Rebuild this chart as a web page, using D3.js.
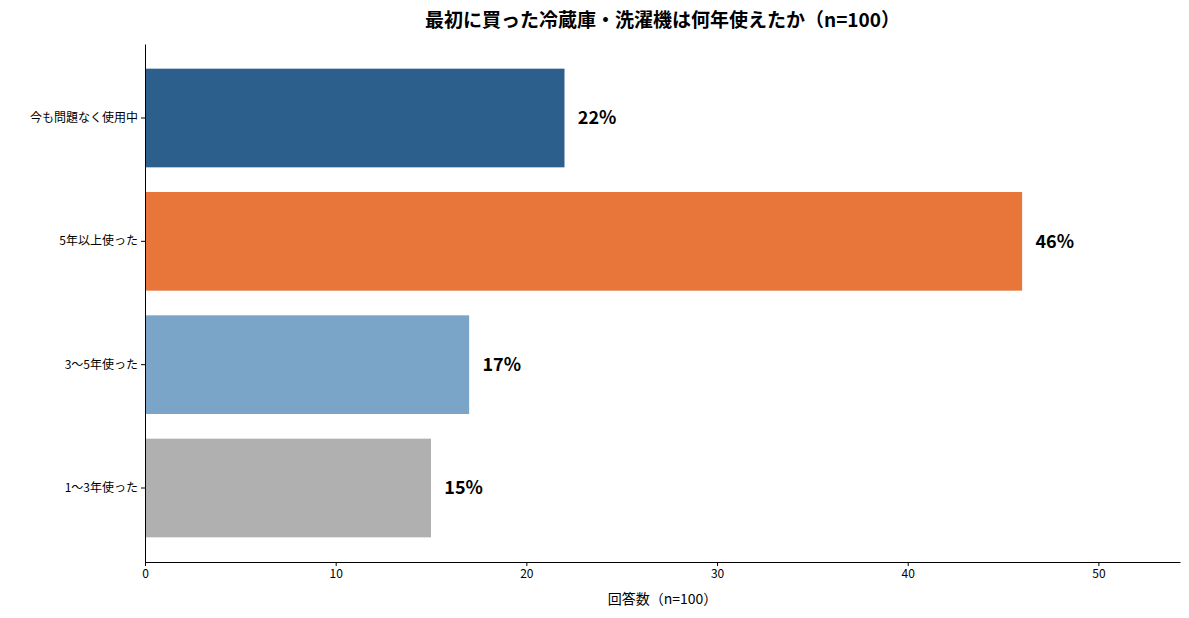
<!DOCTYPE html>
<html><head><meta charset="utf-8">
<script src="https://cdn.jsdelivr.net/npm/d3@7"></script>
<style>body{margin:0;background:#fff;font-family:"Noto Sans CJK JP","Noto Sans",sans-serif;}</style>
</head><body><svg id="c" width="1189" height="618"></svg>
<script>
const categories = ["今も問題なく使用中", "5年以上使った", "3〜5年使った", "1〜3年使った"];
const values = [22, 46, 17, 15];
const colors = ["#2c5f8c", "#e8763b", "#7aa4c8", "#b0b0b0"];
const xTicks = [0, 10, 20, 30, 40, 50];

const svg = d3.select("#c");
const m = { left: 145, right: 1180, top: 44, bottom: 562 };
const x = d3.scaleLinear().domain([0, 46 * 1.18]).range([m.left, m.right]);
const y = d3.scaleBand().domain(categories).range([m.top, m.bottom]).paddingInner(0.2).paddingOuter(0.2);

svg.selectAll("rect.bar").data(values).join("rect")
  .attr("x", x(0)).attr("y", (d, i) => y(categories[i]))
  .attr("width", d => x(d) - x(0)).attr("height", y.bandwidth())
  .attr("fill", (d, i) => colors[i]);

svg.selectAll("text.val").data(values).join("text")
  .attr("x", d => x(d + 0.7)).attr("y", (d, i) => y(categories[i]) + y.bandwidth() / 2)
  .attr("dy", "0.35em").attr("font-size", 18).attr("font-weight", "bold")
  .text(d => d + "%");

const xa = svg.append("g").attr("transform", `translate(0,${m.bottom})`)
  .call(d3.axisBottom(x).tickValues(xTicks).tickSize(4).tickSizeOuter(0));
const ya = svg.append("g").attr("transform", `translate(${m.left},0)`)
  .call(d3.axisLeft(y).tickSize(4).tickSizeOuter(0));
[xa, ya].forEach(a => {
  a.selectAll("text").attr("font-size", 12).attr("fill", "#000").attr("font-family", "Noto Sans CJK JP");
  a.select(".domain").attr("stroke", "#000");
});

svg.append("text").attr("x", (m.left + m.right) / 2).attr("y", 604)
  .attr("text-anchor", "middle").attr("font-size", 14).text("回答数（n=100）");
svg.append("text").attr("x", (m.left + m.right) / 2).attr("y", 27)
  .attr("text-anchor", "middle").attr("font-size", 19).attr("font-weight", "bold")
  .text("最初に買った冷蔵庫・洗濯機は何年使えたか（n=100）");
</script></body></html>
